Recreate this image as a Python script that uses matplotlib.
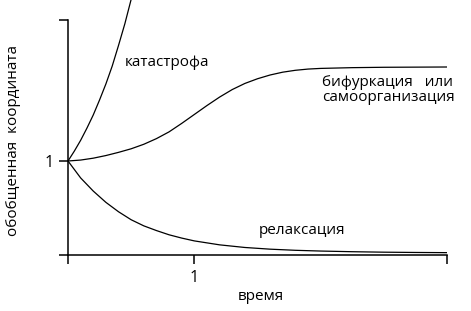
import matplotlib
matplotlib.use("Agg")
import matplotlib.pyplot as plt

plt.rcParams['font.family'] = ['Open Sans', 'DejaVu Sans']

# catastrophe curve
cat_x = [0.0, 0.05, 0.10, 0.15, 0.20, 0.25, 0.30, 0.35, 0.40, 0.45, 0.50]
cat_y = [1.00, 1.105, 1.22, 1.35, 1.49, 1.65, 1.82, 2.01, 2.23, 2.46, 2.72]

# bifurcation / self-organisation curve
bif_x = [0.0, 0.1, 0.2, 0.3, 0.4, 0.5, 0.6, 0.7, 0.8, 0.9, 1.0, 1.1, 1.2, 1.3,
         1.4, 1.5, 1.6, 1.7, 1.8, 1.9, 2.0, 2.25, 2.5, 3.0]
bif_y = [1.000, 1.010, 1.030, 1.058, 1.092, 1.130, 1.178, 1.238, 1.310, 1.400,
         1.495, 1.590, 1.680, 1.760, 1.825, 1.875, 1.915, 1.945, 1.965, 1.978,
         1.985, 1.993, 1.997, 2.000]

# relaxation curve
rel_x = [0.0, 0.1, 0.2, 0.3, 0.4, 0.5, 0.6, 0.7, 0.8, 0.9, 1.0, 1.2, 1.4, 1.6,
         1.8, 2.0, 2.25, 2.5, 2.75, 3.0]
rel_y = [1.00, 0.82, 0.68, 0.56, 0.46, 0.375, 0.31, 0.26, 0.215, 0.18, 0.15,
         0.108, 0.08, 0.062, 0.05, 0.042, 0.035, 0.03, 0.027, 0.025]

x_ticks = [0, 1, 3]
x_tick_labels = ['', '1', '']
y_ticks = [0, 1, 2.5]
y_tick_labels = ['', '1', '']

fig = plt.figure(figsize=(4.71, 3.11), dpi=100)
W, H = 471, 311
ax = fig.add_axes([68 / W, (H - 255) / H, (447 - 68) / W, 255 / H])
ax.set_xlim(0, 3)
ax.set_ylim(0, 255 / 94)

lw = 0.9
ax.plot(cat_x, cat_y, color='black', lw=lw, clip_on=False)
ax.plot(bif_x, bif_y, color='black', lw=lw)
ax.plot(rel_x, rel_y, color='black', lw=lw)

for s in ['top', 'right']:
    ax.spines[s].set_visible(False)
ax.spines['left'].set_bounds(0, 2.5)
ax.spines['bottom'].set_bounds(0, 3)
for s in ['left', 'bottom']:
    ax.spines[s].set_linewidth(1.1)

fs = 11
ax.set_xticks(x_ticks)
ax.set_xticklabels(x_tick_labels)
ax.set_yticks(y_ticks)
ax.set_yticklabels(y_tick_labels)
ax.tick_params(axis='both', direction='out', length=6.5, width=1.1,
               labelsize=11.5, pad=4)

ax.set_xlabel('время', fontsize=fs)
ax.xaxis.set_label_coords((261 - 68) / 379, -(300 - 255) / 255)
ax.xaxis.label.set_va('baseline')
ax.set_ylabel('обобщенная  координата', fontsize=fs)
ax.yaxis.set_label_coords(-(68 - 14) / 379, (255 - 141) / 255)
ax.yaxis.label.set_va('center')

def px2d(px, py):
    return (px - 68) / (379 / 3), (255 - py) / 94

tx, ty = px2d(125, 66)
ax.text(tx, ty, 'катастрофа', fontsize=fs, ha='left', va='baseline')
tx, ty = px2d(322, 86)
ax.text(tx, ty, 'бифуркация   или', fontsize=fs, ha='left', va='baseline')
tx, ty = px2d(322, 101)
ax.text(tx, ty, 'самоорганизация', fontsize=fs, ha='left', va='baseline')
tx, ty = px2d(259, 234)
ax.text(tx, ty, 'релаксация', fontsize=fs, ha='left', va='baseline')

fig.savefig('out.png', dpi=100)
